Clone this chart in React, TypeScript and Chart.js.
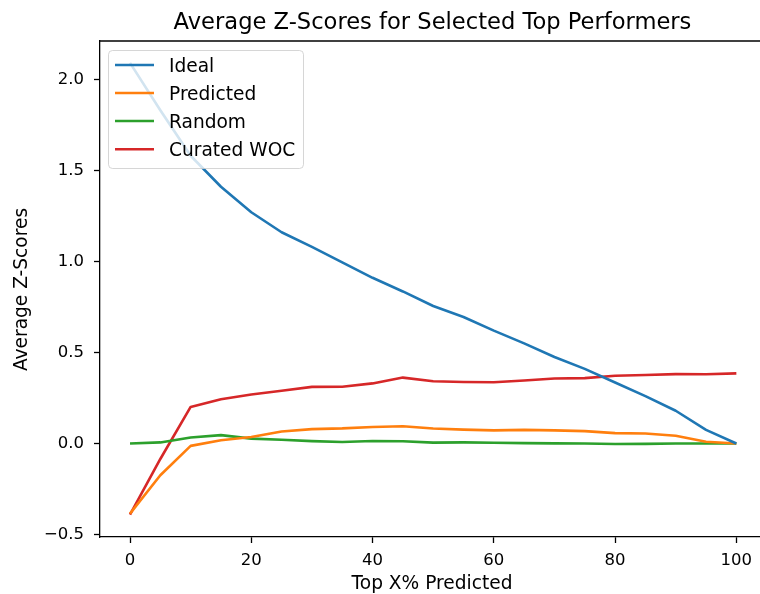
import React, { useEffect, useRef } from 'react';
import { Chart, registerables } from 'chart.js';

Chart.register(...registerables);

const pcts = [0, 5, 10, 15, 20, 25, 30, 35, 40, 45, 50, 55, 60, 65, 70, 75, 80, 85, 90, 95, 100];
const ideal = [2.09, 1.83, 1.58, 1.41, 1.27, 1.16, 1.08, 0.995, 0.91, 0.835, 0.755, 0.695, 0.62, 0.55, 0.475, 0.41, 0.335, 0.26, 0.18, 0.075, 0.0];
const predicted = [-0.385, -0.174, -0.013, 0.018, 0.036, 0.066, 0.079, 0.083, 0.091, 0.095, 0.082, 0.076, 0.072, 0.075, 0.072, 0.068, 0.057, 0.055, 0.043, 0.01, 0.0];
const random = [0.0, 0.006, 0.033, 0.046, 0.027, 0.021, 0.013, 0.008, 0.014, 0.012, 0.005, 0.006, 0.004, 0.002, 0.001, 0.0, -0.003, -0.002, 0.0, 0.0, 0.0];
const curated = [-0.39, -0.085, 0.201, 0.243, 0.269, 0.29, 0.311, 0.312, 0.33, 0.362, 0.342, 0.338, 0.336, 0.346, 0.357, 0.359, 0.372, 0.376, 0.381, 0.38, 0.385];

const seriesNames = ['Ideal', 'Predicted', 'Random', 'Curated WOC'];
const seriesColors = ['#1f77b4', '#ff7f0e', '#2ca02c', '#d62728'];
const xTicks = [0, 20, 40, 60, 80, 100];
const yTicks = [-0.5, 0, 0.5, 1.0, 1.5, 2.0];
const titleText = 'Average Z-Scores for Selected Top Performers';
const xLabel = 'Top X% Predicted';
const yLabel = 'Average Z-Scores';

const FONT = '"DejaVu Sans", sans-serif';

const decorPlugin = {
  id: 'decor',
  afterDatasetsDraw(chart: any) {
    const ctx = chart.ctx;
    ctx.save();
    const bx = 108.5, by = 50.5, bw = 195, bh = 118, r = 4;
    ctx.beginPath();
    ctx.moveTo(bx + r, by);
    ctx.lineTo(bx + bw - r, by);
    ctx.arcTo(bx + bw, by, bx + bw, by + r, r);
    ctx.lineTo(bx + bw, by + bh - r);
    ctx.arcTo(bx + bw, by + bh, bx + bw - r, by + bh, r);
    ctx.lineTo(bx + r, by + bh);
    ctx.arcTo(bx, by + bh, bx, by + bh - r, r);
    ctx.lineTo(bx, by + r);
    ctx.arcTo(bx, by, bx + r, by, r);
    ctx.closePath();
    ctx.fillStyle = 'rgba(255,255,255,0.8)';
    ctx.fill();
    ctx.strokeStyle = 'rgba(204,204,204,0.8)';
    ctx.lineWidth = 1;
    ctx.stroke();
    const rows = [65, 93, 121, 149.3];
    chart.data.datasets.forEach((ds: any, i: number) => {
      const y = rows[i];
      ctx.beginPath();
      ctx.moveTo(115, y);
      ctx.lineTo(154, y);
      ctx.strokeStyle = ds.borderColor;
      ctx.lineWidth = 2.6;
      ctx.stroke();
      ctx.fillStyle = '#000';
      ctx.font = `18.6px ${FONT}`;
      ctx.textAlign = 'left';
      ctx.textBaseline = 'alphabetic';
      ctx.fillText(ds.label, 169, y + 6.7);
    });
    ctx.restore();
  },
  afterDraw(chart: any) {
    const ctx = chart.ctx;
    const a = chart.chartArea;
    ctx.save();
    ctx.strokeStyle = '#000';
    ctx.lineWidth = 1.3;
    ctx.beginPath();
    ctx.moveTo(a.left, a.top);
    ctx.lineTo(a.right, a.top);
    ctx.stroke();
    ctx.fillStyle = '#000';
    ctx.textBaseline = 'alphabetic';
    ctx.textAlign = 'center';
    ctx.font = `22.6px ${FONT}`;
    ctx.fillText(titleText, 432.5, 29);
    ctx.font = `18.6px ${FONT}`;
    ctx.fillText(xLabel, 432, 588.5);
    ctx.translate(26.7, 289.5);
    ctx.rotate(-Math.PI / 2);
    ctx.fillText(yLabel, 0, 0);
    ctx.restore();
  },
};

export default function App() {
  const ref = useRef<HTMLCanvasElement>(null);
  useEffect(() => {
    const canvas = ref.current;
    if (!canvas) return;
    const all = [ideal, predicted, random, curated];
    const chart = new Chart(canvas, {
      type: 'line',
      data: {
        datasets: all.map((vals, i) => ({
          label: seriesNames[i],
          data: pcts.map((p, j) => ({ x: p, y: vals[j] })),
          borderColor: seriesColors[i],
          backgroundColor: seriesColors[i],
          borderWidth: 2.6,
          pointRadius: 0,
          tension: 0,
          fill: false,
          borderJoinStyle: 'round',
        })),
      },
      options: {
        animation: false,
        responsive: false,
        devicePixelRatio: 1,
        layout: { padding: { left: 0, right: 0, top: 41, bottom: 0 } },
        plugins: {
          legend: { display: false },
          title: { display: false },
          tooltip: { enabled: false },
        },
        scales: {
          x: {
            type: 'linear',
            min: -4.95,
            max: 103.9,
            afterFit: (s: any) => { s.height = 57; s.paddingLeft = 0; s.paddingRight = 0; },
            afterBuildTicks: (s: any) => { s.ticks = xTicks.map((v) => ({ value: v })); },
            grid: { display: true, drawOnChartArea: false, drawTicks: true, tickLength: 6, tickColor: '#000', tickWidth: 1.3 },
            border: { display: true, color: '#000', width: 1.3 },
            ticks: {
              padding: 8,
              color: '#000',
              font: { family: FONT, size: 16.5 },
              maxRotation: 0,
              callback: (v: any) => String(v),
            },
          },
          y: {
            type: 'linear',
            min: -0.5134,
            max: 2.2103,
            afterFit: (s: any) => { s.width = 100; s.paddingTop = 0; s.paddingBottom = 0; },
            afterBuildTicks: (s: any) => { s.ticks = yTicks.map((v) => ({ value: v })); },
            grid: { display: true, drawOnChartArea: false, drawTicks: true, tickLength: 6, tickColor: '#000', tickWidth: 1.3 },
            border: { display: true, color: '#000', width: 1.3 },
            ticks: {
              padding: 10,
              color: '#000',
              font: { family: FONT, size: 16.5 },
              callback: (v: any) => {
                const n = Number(v);
                return n < 0 ? '\u2212' + Math.abs(n).toFixed(1) : n.toFixed(1);
              },
            },
          },
        },
      },
      plugins: [decorPlugin],
    } as any);
    return () => chart.destroy();
  }, []);
  return (
    <div style={{ position: 'fixed', left: 0, top: 0, width: 760, height: 594, overflow: 'hidden', background: '#fff' }}>
      <canvas ref={ref} width={760} height={594} style={{ width: 760, height: 594, display: 'block' }} />
    </div>
  );
}
